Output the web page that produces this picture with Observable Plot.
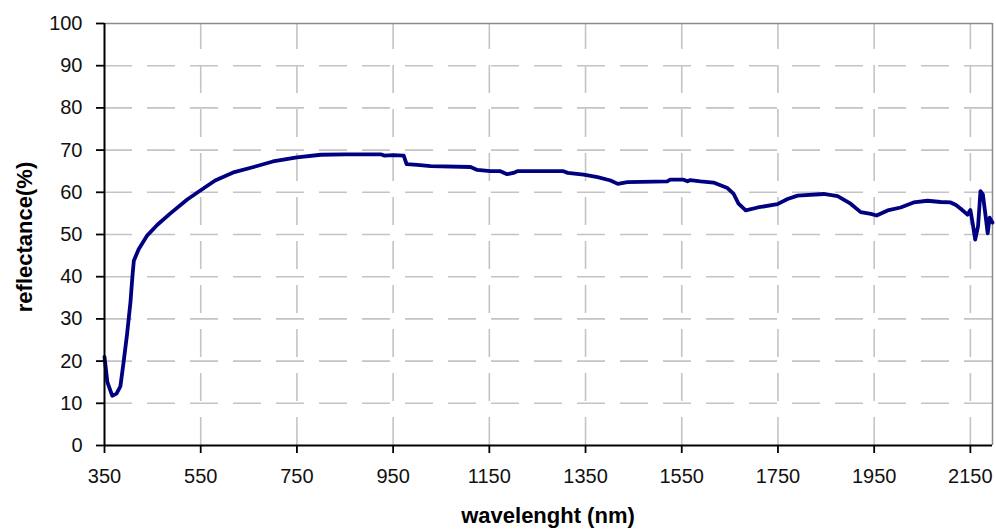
<!DOCTYPE html>
<html>
<head>
<meta charset="utf-8">
<script src="https://cdn.jsdelivr.net/npm/d3@7"></script>
<script src="https://cdn.jsdelivr.net/npm/@observablehq/plot@0.6"></script>
<style>
  html, body { margin: 0; padding: 0; background: #fff; }
  #chart { width: 996px; height: 530px; overflow: hidden; }
</style>
</head>
<body>
<div id="chart"></div>
<script>
const wavelength = [350, 356, 366, 375, 383, 390, 397, 404, 408, 411, 421, 439, 460, 487, 522, 550, 580, 620, 660, 700, 750, 800, 850, 900, 924, 932, 950, 972, 978, 1000, 1028, 1111, 1125, 1152, 1173, 1187, 1200, 1208, 1304, 1313, 1346, 1375, 1402, 1417, 1437, 1520, 1526, 1554, 1562, 1568, 1589, 1616, 1645, 1658, 1668, 1683, 1708, 1749, 1770, 1791, 1845, 1874, 1901, 1922, 1943, 1955, 1978, 2005, 2032, 2061, 2088, 2109, 2120, 2130, 2144, 2150, 2155, 2160, 2166, 2171, 2176, 2181, 2186, 2190, 2196];
const reflectance = [21.0, 15.0, 11.8, 12.3, 14.0, 20.0, 26.5, 34.0, 40.0, 43.8, 46.5, 49.8, 52.3, 55.0, 58.3, 60.5, 62.8, 64.8, 66.0, 67.3, 68.3, 68.9, 69.0, 69.0, 69.0, 68.7, 68.8, 68.7, 66.7, 66.5, 66.2, 66.0, 65.3, 65.0, 65.0, 64.3, 64.6, 65.0, 65.0, 64.6, 64.2, 63.6, 62.8, 62.0, 62.4, 62.6, 63.0, 63.0, 62.6, 62.9, 62.6, 62.3, 61.0, 59.6, 57.3, 55.7, 56.4, 57.2, 58.4, 59.2, 59.6, 59.1, 57.3, 55.3, 54.9, 54.5, 55.7, 56.4, 57.6, 58.0, 57.7, 57.6, 57.0, 56.1, 54.7, 55.8, 52.5, 48.8, 52.0, 60.3, 59.5, 55.0, 50.3, 54.0, 52.8];
const xTicks = [350, 550, 750, 950, 1150, 1350, 1550, 1750, 1950, 2150];
const yTicks = [0, 10, 20, 30, 40, 50, 60, 70, 80, 90, 100];
const xLabel = "wavelenght (nm)";
const yLabel = "reflectance(%)";

const data = wavelength.map((w, i) => ({w, r: reflectance[i]}));
const xMax = 2196;
const gridX = xTicks.filter(t => t > 350);
const gridY = yTicks.filter(t => t > 0 && t < 100);

const chart = Plot.plot({
  width: 996,
  height: 530,
  marginLeft: 104,
  marginRight: 4,
  marginTop: 23,
  marginBottom: 85,
  x: {domain: [350, xMax]},
  y: {domain: [0, 100]},
  style: {fontFamily: "'Liberation Sans', Arial, sans-serif", fontSize: "20px", color: "#111", background: "#fff"},
  marks: [
    Plot.ruleY(gridY, {stroke: "#c4c4c4", strokeWidth: 1.6, strokeDasharray: "28,15"}),
    Plot.ruleX(gridX, {y1: 0, y2: 100, stroke: "#c4c4c4", strokeWidth: 1.6, strokeDasharray: "28,16"}),
    Plot.ruleY([100], {stroke: "#8a8a8a", strokeWidth: 1.5}),
    Plot.ruleX([xMax], {stroke: "#8a8a8a", strokeWidth: 1.5}),
    Plot.line(data, {x: "w", y: "r", stroke: "#000080", strokeWidth: 3.8, strokeLinejoin: "round", strokeLinecap: "round"}),
    Plot.axisX({ticks: xTicks, tickSize: 8, tickPadding: 15, tickFormat: d => String(d), label: null, stroke: "#000", strokeWidth: 1.8}),
    Plot.axisY({ticks: yTicks, tickSize: 8, tickPadding: 14, tickFormat: d => String(d), label: null, stroke: "#000", strokeWidth: 1.8}),
    Plot.ruleY([0], {stroke: "#000", strokeWidth: 2}),
    Plot.ruleX([350], {stroke: "#000", strokeWidth: 2})
  ]
});
document.getElementById("chart").appendChild(chart);

const svg = d3.select(chart);
svg.append("text")
  .attr("x", 548).attr("y", 523)
  .attr("text-anchor", "middle")
  .attr("font-family", "'Liberation Sans', Arial, sans-serif")
  .attr("font-weight", "bold")
  .attr("font-size", 22)
  .attr("fill", "#000")
  .text(xLabel);
svg.append("text")
  .attr("transform", "translate(32,237) rotate(-90)")
  .attr("text-anchor", "middle")
  .attr("font-family", "'Liberation Sans', Arial, sans-serif")
  .attr("font-weight", "bold")
  .attr("font-size", 22)
  .attr("fill", "#000")
  .text(yLabel);
</script>
</body>
</html>
